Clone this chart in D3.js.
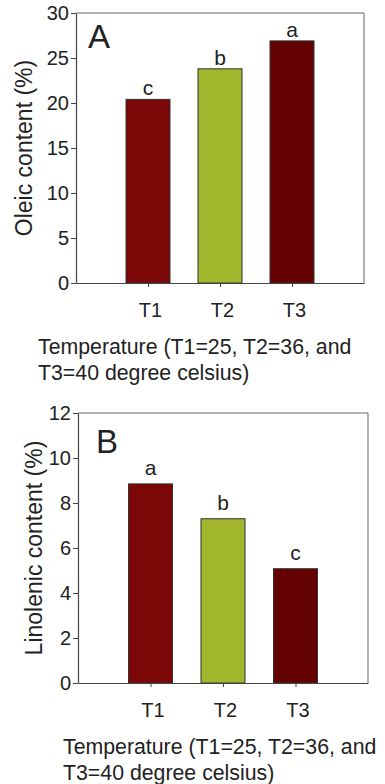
<!DOCTYPE html>
<html>
<head>
<meta charset="utf-8">
<script src="https://cdn.jsdelivr.net/npm/d3@7"></script>
<style>
  body { margin: 0; background: #fff; }
  text { font-family: Arial, "Liberation Sans", sans-serif; fill: #222; }
</style>
</head>
<body>
<div id="chart"></div>
<script>
var categories = ["T1", "T2", "T3"];
var barColors = ["#7b0707", "#a2b62e", "#630000"];

var oleic = [20.4, 23.8, 26.9];
var oleicLetters = ["c", "b", "a"];
var oleicTicks = [0, 5, 10, 15, 20, 25, 30];

var linolenic = [8.85, 7.3, 5.08];
var linolenicLetters = ["a", "b", "c"];
var linolenicTicks = [0, 2, 4, 6, 8, 10, 12];

var xTitle = ["Temperature (T1=25, T2=36, and", "T3=40 degree celsius)"];

var svg = d3.select("#chart")
  .append("svg")
  .attr("width", 385)
  .attr("height", 784);

// draws one panel
function drawPanel(opts) {
  var g = svg.append("g");

  var x = d3.scalePoint()
    .domain(categories)
    .range([opts.left, opts.right])
    .padding(1);

  var y = d3.scaleLinear()
    .domain([0, d3.max(opts.ticks)])
    .range([opts.bottom, opts.top]);

  var barW = 44;

  // frame (top + right)
  g.append("path")
    .attr("d", `M${opts.left},${opts.top}H${opts.right}V${opts.bottom}`)
    .attr("fill", "none")
    .attr("stroke", "#666")
    .attr("stroke-width", 1);

  g.selectAll("rect.bar")
    .data(opts.values)
    .enter()
    .append("rect")
    .attr("class", "bar")
    .attr("x", (d, i) => x(categories[i]) - barW / 2)
    .attr("width", barW)
    .attr("y", d => y(d))
    .attr("height", d => y(0) - y(d))
    .attr("fill", (d, i) => barColors[i])
    .attr("stroke", "#333")
    .attr("stroke-width", 1);

  g.selectAll("text.letter")
    .data(opts.values)
    .enter()
    .append("text")
    .attr("class", "letter")
    .attr("x", (d, i) => x(categories[i]))
    .attr("y", d => y(d) - opts.letterGap)
    .attr("text-anchor", "middle")
    .style("font-size", "21px")
    .text((d, i) => opts.letters[i]);

  var yAxis = g.append("g")
    .attr("transform", `translate(${opts.left},0)`)
    .call(d3.axisLeft(y).tickValues(opts.ticks).tickSize(5).tickPadding(2).tickSizeOuter(0));
  yAxis.selectAll("text").style("font-size", "20px").attr("fill", "#222");

  var xAxis = g.append("g")
    .attr("transform", `translate(0,${opts.bottom})`)
    .call(d3.axisBottom(x).tickSize(4).tickPadding(16).tickSizeOuter(0));
  xAxis.selectAll("text").style("font-size", "20px").attr("fill", "#222").attr("dx", "2px");

  g.selectAll(".domain").attr("stroke", "#444").attr("stroke-width", 1.2);
  g.selectAll(".tick line").attr("stroke", "#444");

  g.append("text")
    .attr("x", opts.letterX)
    .attr("y", opts.letterY)
    .style("font-size", "33px")
    .text(opts.panel);

  g.append("text")
    .attr("transform", `translate(${opts.yTitleX},${(opts.top + opts.bottom) / 2}) rotate(-90)`)
    .attr("text-anchor", "middle")
    .attr("dy", "0.35em")
    .style("font-size", "23px")
    .text(opts.yTitle);

  g.selectAll("text.xtitle")
    .data(xTitle)
    .enter()
    .append("text")
    .attr("class", "xtitle")
    .attr("x", opts.xTitleX)
    .attr("y", (d, i) => opts.xTitleY + i * 26)
    .style("font-size", "21.3px")
    .text(d => d);
}

drawPanel({
  panel: "A", values: oleic, letters: oleicLetters, ticks: oleicTicks,
  left: 76, right: 364, top: 13, bottom: 283, letterGap: 4,
  letterX: 88, letterY: 48, yTitleX: 24, yTitle: "Oleic content (%)",
  xTitleX: 38, xTitleY: 354
});

drawPanel({
  panel: "B", values: linolenic, letters: linolenicLetters, ticks: linolenicTicks,
  left: 78, right: 368, top: 413, bottom: 683, letterGap: 9,
  letterX: 96, letterY: 453, yTitleX: 34, yTitle: "Linolenic content (%)",
  xTitleX: 63, xTitleY: 754
});
</script>
</body>
</html>
